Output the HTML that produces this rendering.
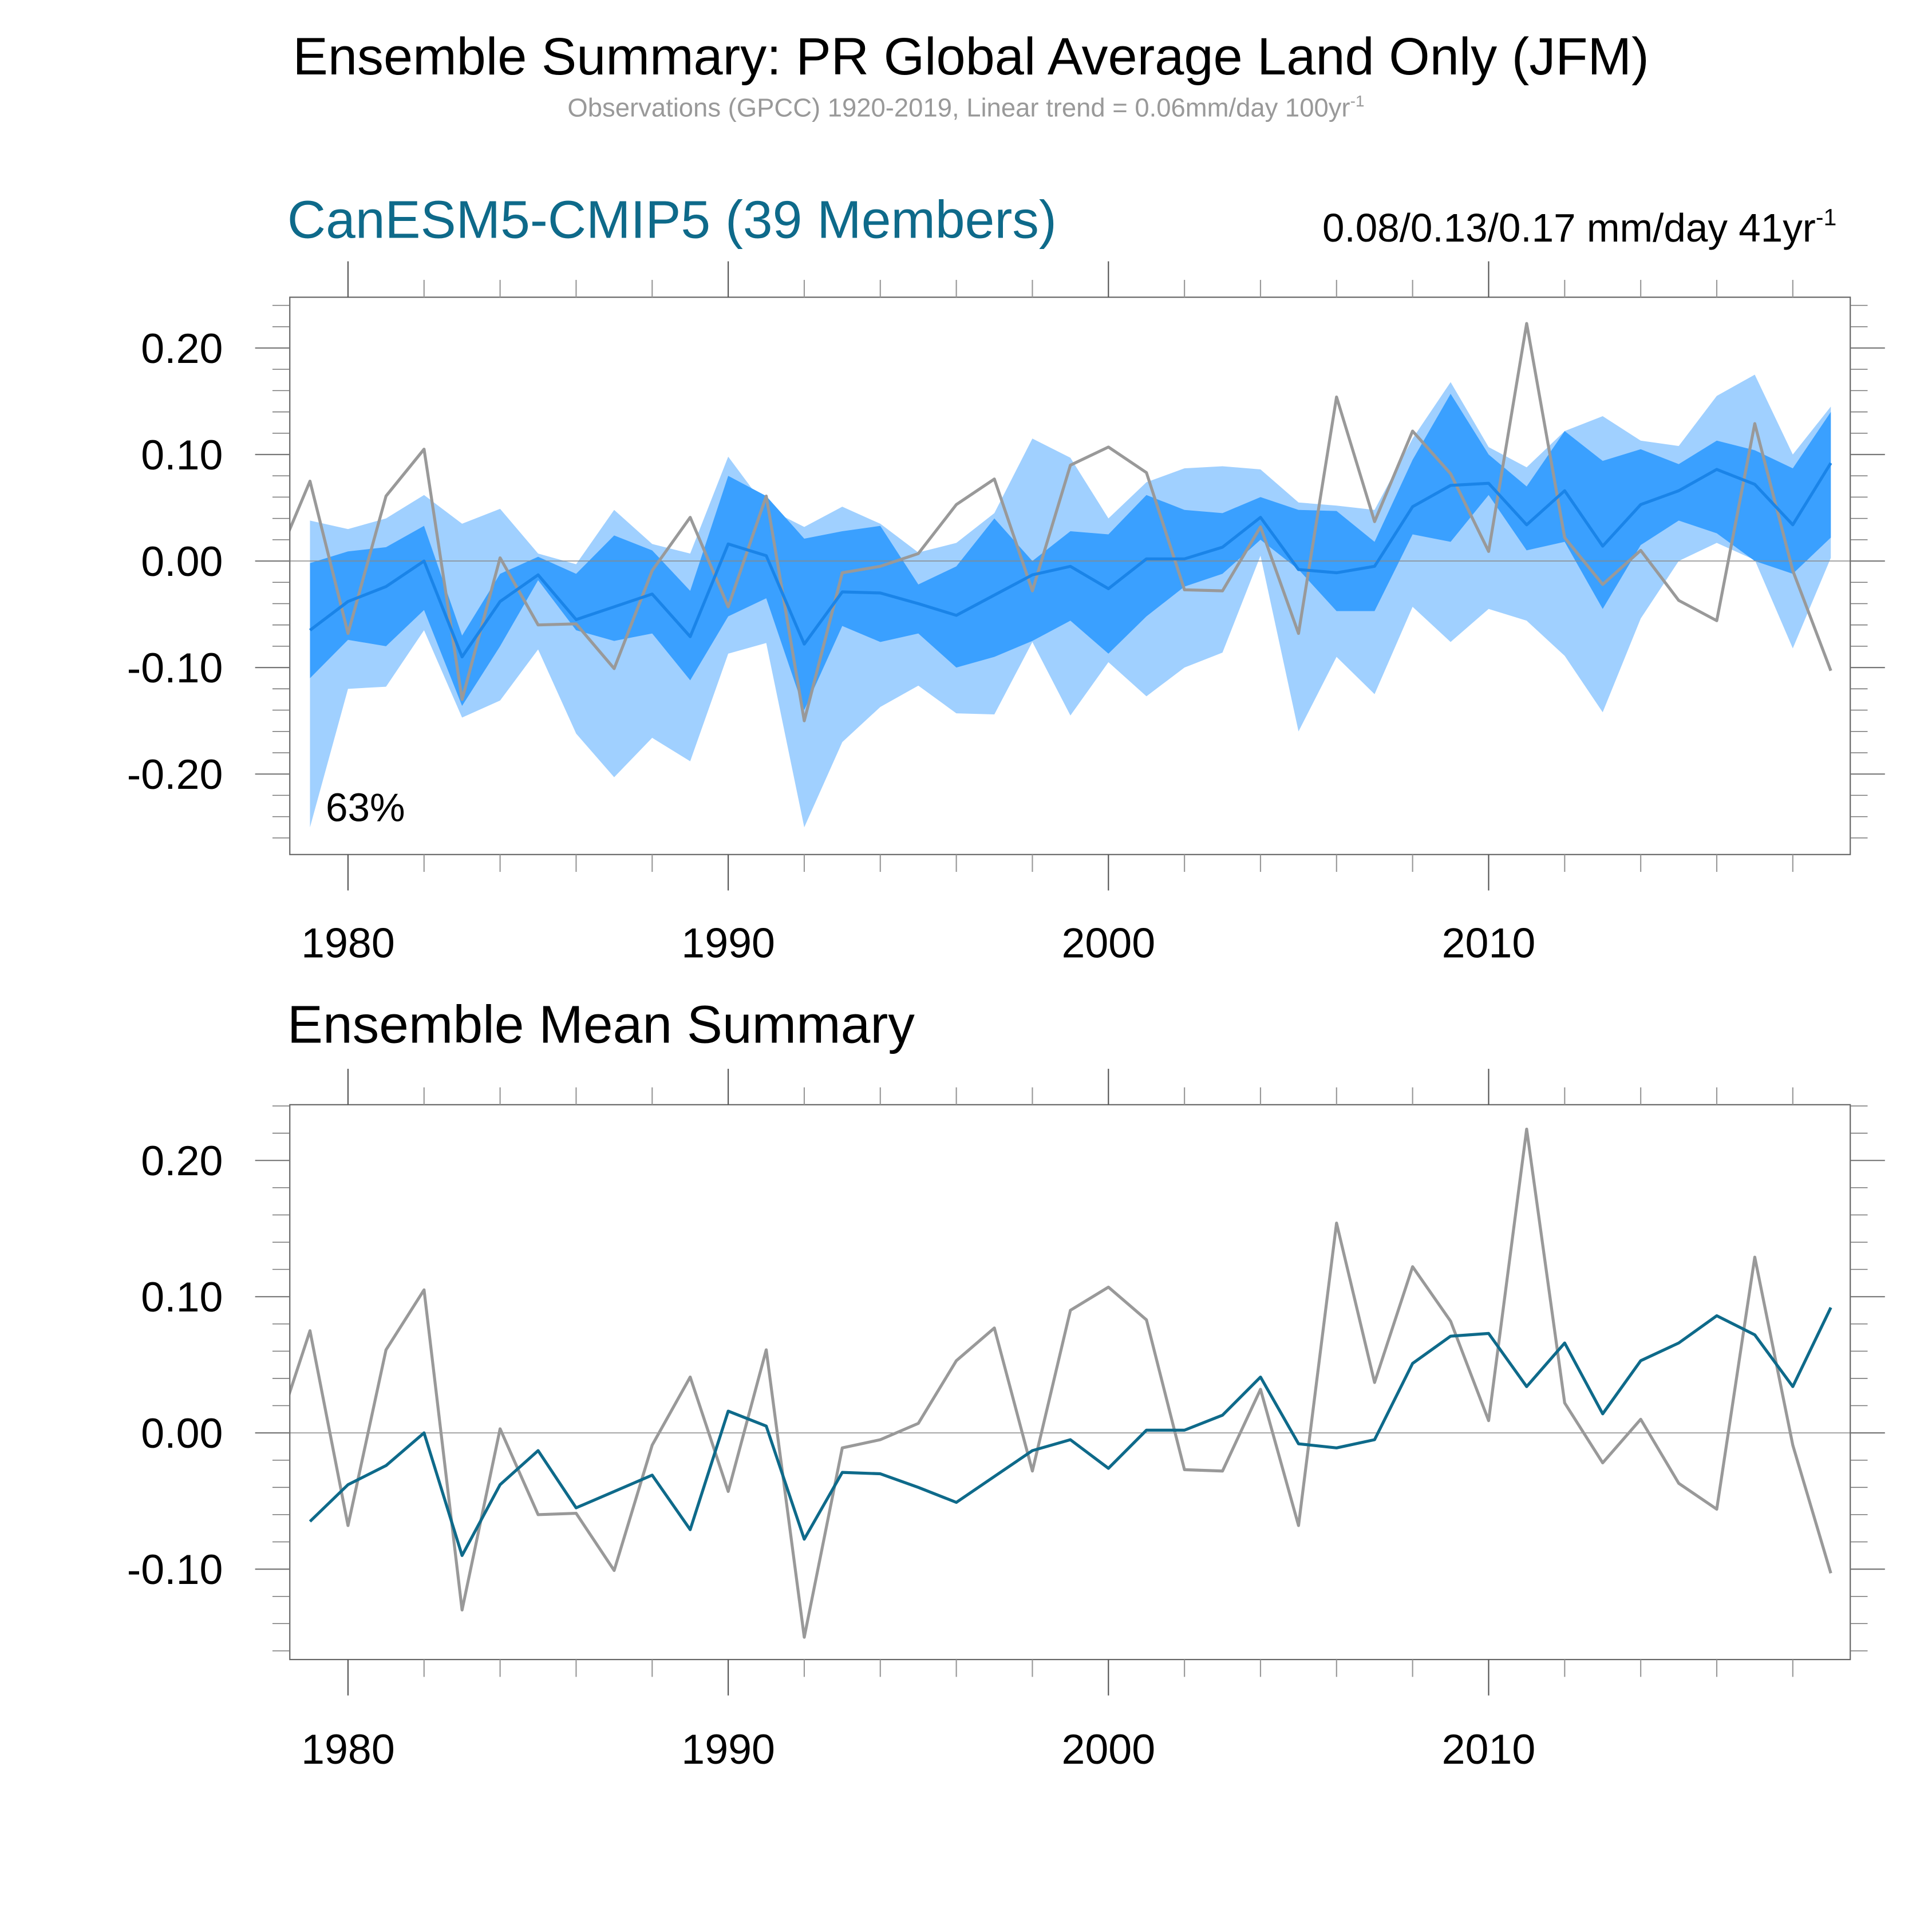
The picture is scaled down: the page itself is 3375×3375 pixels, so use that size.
<!DOCTYPE html>
<html><head><meta charset="utf-8"><style>html,body{margin:0;padding:0;background:#fff}svg{display:block}text{font-family:"Liberation Sans",sans-serif}</style></head>
<body>
<svg id="chart" width="3375" height="3375" viewBox="0 0 1560 1560" xmlns="http://www.w3.org/2000/svg">
<text x="784" y="60" font-size="42.5" text-anchor="middle" fill="#000">Ensemble Summary: PR Global Average Land Only (JFM)</text>
<text x="780" y="94" font-size="21" text-anchor="middle" fill="#999">Observations (GPCC) 1920-2019, Linear trend = 0.06mm/day 100yr<tspan font-size="13" dy="-8">-1</tspan></text>
<text x="232" y="192" font-size="43" fill="#0e6a8a">CanESM5-CMIP5 (39 Members)</text>
<text x="1483" y="195" font-size="32" text-anchor="end" fill="#000">0.08/0.13/0.17 mm/day 41yr<tspan font-size="19" dy="-13">-1</tspan></text>
<text x="232" y="842" font-size="43" fill="#000">Ensemble Mean Summary</text>
<text x="263" y="663" font-size="32" fill="#000">63%</text>
<g id="g"></g>
</svg>
<script>
const years=[];for(let y=1979;y<=2019;y++)years.push(y);
const obsYears=[1978].concat(years);
const obsValues=[-0.01,0.075,-0.068,0.061,0.105,-0.13,0.003,-0.06,-0.059,-0.101,-0.009,0.041,-0.043,0.061,-0.15,-0.011,-0.005,0.007,0.053,0.077,-0.028,0.09,0.107,0.083,-0.027,-0.028,0.032,-0.068,0.154,0.037,0.122,0.082,0.009,0.223,0.022,-0.022,0.01,-0.037,-0.056,0.129,-0.009,-0.103];
const ensMean=[-0.065,-0.038,-0.024,0.0,-0.09,-0.038,-0.013,-0.055,-0.043,-0.031,-0.071,0.016,0.005,-0.078,-0.029,-0.03,-0.04,-0.051,-0.032,-0.013,-0.005,-0.026,0.002,0.002,0.013,0.041,-0.008,-0.011,-0.005,0.051,0.071,0.073,0.034,0.066,0.014,0.053,0.066,0.086,0.072,0.034,0.092];
const lightUpper=[0.038,0.03,0.04,0.062,0.035,0.049,0.007,-0.003,0.048,0.016,0.007,0.098,0.05,0.032,0.051,0.035,0.008,0.017,0.045,0.115,0.097,0.04,0.074,0.087,0.089,0.086,0.055,0.052,0.048,0.115,0.168,0.107,0.088,0.122,0.136,0.113,0.108,0.155,0.175,0.1,0.145];
const lightLower=[-0.25,-0.12,-0.118,-0.065,-0.147,-0.131,-0.083,-0.162,-0.203,-0.166,-0.188,-0.087,-0.077,-0.25,-0.17,-0.137,-0.117,-0.143,-0.144,-0.076,-0.145,-0.095,-0.127,-0.1,-0.086,0.005,-0.16,-0.09,-0.125,-0.043,-0.076,-0.045,-0.056,-0.089,-0.142,-0.054,0.0,0.017,0.001,-0.082,0.003];
const darkUpper=[-0.002,0.009,0.013,0.033,-0.07,-0.012,0.004,-0.012,0.024,0.01,-0.028,0.08,0.061,0.021,0.028,0.033,-0.022,-0.005,0.04,0.0,0.028,0.025,0.062,0.048,0.045,0.06,0.048,0.047,0.018,0.095,0.157,0.1,0.07,0.122,0.094,0.105,0.091,0.113,0.104,0.087,0.14];
const darkLower=[-0.11,-0.074,-0.08,-0.046,-0.136,-0.08,-0.018,-0.065,-0.075,-0.068,-0.112,-0.052,-0.035,-0.14,-0.061,-0.076,-0.068,-0.1,-0.09,-0.075,-0.056,-0.087,-0.052,-0.024,-0.012,0.02,-0.008,-0.047,-0.047,0.025,0.018,0.062,0.01,0.018,-0.045,0.015,0.038,0.026,0.0,-0.012,0.022];
const yTicksTop=[0.2,0.1,0.0,-0.1,-0.2];
const yTicksBottom=[0.2,0.1,0.0,-0.1];
const xTickYears=[1980,1990,2000,2010];

const NS="http://www.w3.org/2000/svg";const G=document.getElementById('g');
function mk(t,a,p){const e=document.createElementNS(NS,t);for(const k in a)e.setAttribute(k,a[k]);(p||G).appendChild(e);return e;}
const xL=234,xR=1494;
function X(yr){return 281+(yr-1980)*30.7;}
function panel(id,top,bot,v0y,per01,yticks,yMin,yMax,yrLabelY,withBands){
  const Y=v=>v0y-v*per01*10;
  const grp=mk('g',{});
  
  
  const cid=id+'-clip';
  const cp=mk('clipPath',{id:cid},grp);mk('rect',{x:xL,y:top,width:xR-xL,height:bot-top},cp);
  const inner=mk('g',{'clip-path':'url(#'+cid+')'},grp);
  if(withBands){
    const band=(up,lo,col,name)=>{let d='';years.forEach((y,i)=>{d+=(i?'L':'M')+X(y)+','+Y(up[i]);});for(let i=years.length-1;i>=0;i--)d+='L'+X(years[i])+','+Y(lo[i]);
      const p=mk('path',{d:d+'Z',fill:col},inner);
      
      };
    band(lightUpper,lightLower,'#a0d0ff','light-spread-band');
    band(darkUpper,darkLower,'#3aa0ff','dark-spread-band');
  }
  const zl=mk('line',{x1:xL,x2:xR,y1:Y(0),y2:Y(0),stroke:'#888','stroke-width':0.7},inner);
  
  
  const ob=mk('polyline',{points:obsYears.map((y,i)=>X(y)+','+Y(obsValues[i])).join(' '),fill:'none',stroke:'#999','stroke-width':2.4,'stroke-linejoin':'round'},inner);
  
  
  const em=mk('polyline',{points:years.map((y,i)=>X(y)+','+Y(ensMean[i])).join(' '),fill:'none',stroke:withBands?'#1a84e8':'#0e6a8a','stroke-width':2.4,'stroke-linejoin':'round'},inner);
  
  
  mk('rect',{x:xL,y:top,width:xR-xL,height:bot-top,fill:'none',stroke:'#666','stroke-width':1},grp);
  for(let k=Math.ceil(yMin*50);k<=Math.floor(yMax*50);k++){
    const v=k/50,yy=Y(v),maj=(k%5===0);
    const len=maj?28:14;
    mk('line',{x1:xL-len,x2:xL,y1:yy,y2:yy,stroke:'#777','stroke-width':maj?1:0.7},grp);
    mk('line',{x1:xR,x2:xR+len,y1:yy,y2:yy,stroke:'#777','stroke-width':maj?1:0.7},grp);
  }
  yticks.forEach(v=>{const t=mk('text',{x:180,y:Y(v)+12,'font-size':34,'text-anchor':'end',fill:'#000'},grp);t.textContent=v.toFixed(2);
    
    });
  for(let yr=1980;yr<=2018;yr+=2){
    const xx=X(yr),maj=(yr%10===0),len=maj?29:14;
    mk('line',{x1:xx,x2:xx,y1:top-len,y2:top,stroke:maj?'#555':'#999','stroke-width':1},grp);
    mk('line',{x1:xx,x2:xx,y1:bot,y2:bot+len,stroke:maj?'#555':'#999','stroke-width':1},grp);
  }
  xTickYears.forEach(yr=>{const t=mk('text',{x:X(yr),y:yrLabelY,'font-size':34,'text-anchor':'middle',fill:'#000'},grp);t.textContent=yr;
    
    });
}
panel('top',240,690,453,86,yTicksTop,-0.2756,0.2477,773,true);
panel('bottom',892,1340,1157,110,yTicksBottom,-0.166,0.259,1424,false);
</script>
</body></html>
